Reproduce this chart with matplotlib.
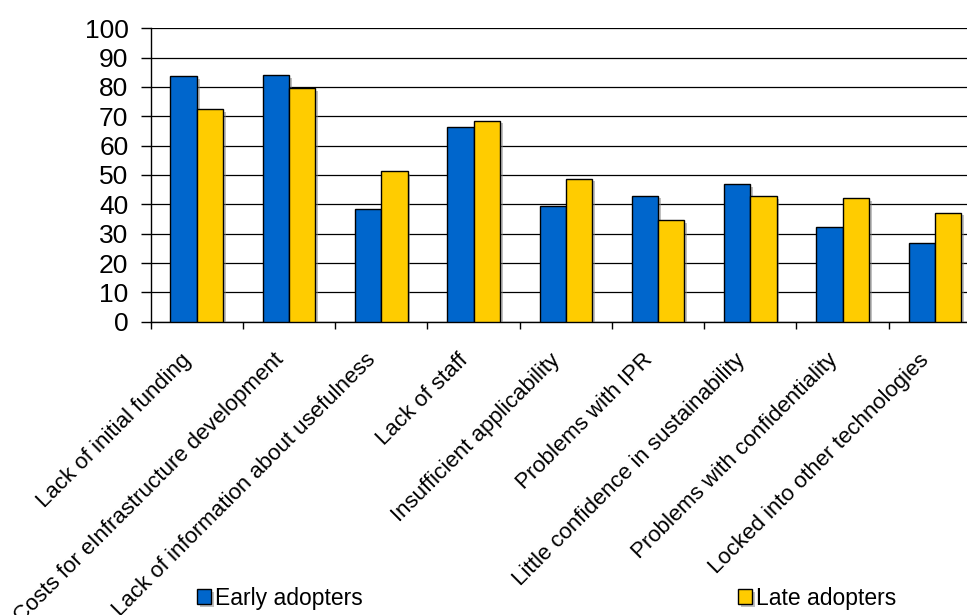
#!/usr/bin/env python3

import matplotlib

matplotlib.use("Agg")
import matplotlib.pyplot as plt
import matplotlib.patheffects as pe
import matplotlib.transforms as mtransforms
import numpy as np

categories = [
    "Lack of initial funding",
    "Costs for eInfrastructure development",
    "Lack of information about usefulness",
    "Lack of staff",
    "Insufficient applicability",
    "Problems with IPR",
    "Little confidence in sustainability",
    "Problems with confidentiality",
    "Locked into other technologies",
]
early = [83.7, 84.0, 38.3, 66.2, 39.3, 43.0, 46.8, 32.3, 26.7]
late = [72.4, 79.5, 51.4, 68.5, 48.8, 34.7, 42.7, 42.2, 37.2]
series_names = ["Early adopters", "Late adopters"]
y_ticks = list(range(0, 101, 10))

BLUE = "#0066CC"
YELLOW = "#FFCC00"

plt.rcParams["font.family"] = ["Liberation Sans", "DejaVu Sans"]

fig = plt.figure(figsize=(9.67, 6.15), dpi=100)
ax = fig.add_axes([0.1558, 0.4769, 0.8587, 0.4771])

x = np.arange(len(categories))
w = 0.285
shadow = [pe.SimplePatchShadow(offset=(2, -2), shadow_rgbFace="gray", alpha=0.5), pe.Normal()]
b1 = ax.bar(x - w / 2, early, w, color=BLUE, edgecolor="black", linewidth=1.0,
            label=series_names[0], zorder=3)
b2 = ax.bar(x + w / 2, late, w, color=YELLOW, edgecolor="black", linewidth=1.0,
            label=series_names[1], zorder=3)
for bar in list(b1) + list(b2):
    bar.set_path_effects(shadow)

ax.set_xlim(-0.5, len(categories) - 0.5)
ax.set_ylim(0, 100)
ax.set_yticks(y_ticks)
ax.tick_params(axis="y", labelsize=19, length=7, width=1, direction="out", pad=9)
ax.yaxis.grid(True, color="black", linewidth=0.9, zorder=0)
ax.set_axisbelow(True)

# boundary ticks without labels, category labels on minor ticks
ax.set_xticks(np.arange(-0.5, len(categories), 1.0))
ax.set_xticklabels([])
ax.tick_params(axis="x", which="major", length=5, width=1, direction="out")
ax.set_xticks(x, minor=True)
ax.set_xticklabels(categories, minor=True, rotation=45, ha="right", va="top",
                   rotation_mode="anchor", fontsize=16)
ax.tick_params(axis="x", which="minor", length=0, pad=20)
shift = mtransforms.ScaledTranslation(-0.16, 0, fig.dpi_scale_trans)
for lbl in ax.get_xticklabels(minor=True):
    lbl.set_transform(lbl.get_transform() + shift)

for side in ["top", "right"]:
    ax.spines[side].set_visible(False)
for side in ["left", "bottom"]:
    ax.spines[side].set_linewidth(1)

# two legend entries spread far apart along the bottom
for handle, name, xpos in [(b1, series_names[0], 0.2037), (b2, series_names[1], 0.7632)]:
    fig.legend(handles=[handle], labels=[name], loc="center left",
               bbox_to_anchor=(xpos, 0.027), frameon=False, fontsize=16.5,
               handlelength=0.62, handleheight=0.62, handletextpad=0.15,
               borderpad=0, borderaxespad=0)

fig.savefig("out.png", dpi=100)
plt.close(fig)
